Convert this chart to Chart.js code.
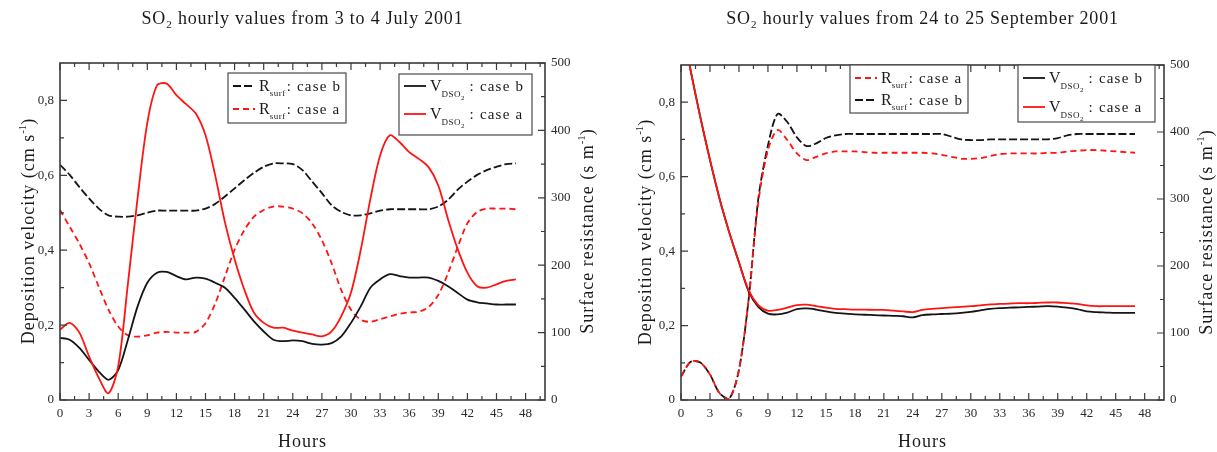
<!DOCTYPE html>
<html><head><meta charset="utf-8">
<script src="https://cdn.jsdelivr.net/npm/chart.js@4.4.1/dist/chart.umd.min.js"></script>
<style>
html,body{margin:0;padding:0;background:#fff;width:1217px;height:452px;overflow:hidden}
canvas{position:absolute;top:0}
#c1{left:0}
#c2{left:608px}
</style></head><body>
<canvas id="c1" width="608" height="452"></canvas>
<canvas id="c2" width="609" height="452"></canvas>
<script>
// ---------- data ----------
const hours = [0,1,2,3,4,5,6,7,8,9,10,11,12,13,14,15,16,17,18,19,20,21,22,23,24,25,26,27,28,29,30,31,32,33,34,35,36,37,38,39,40,41,42,43,44,45,46,47];

const xTicks = [0,3,6,9,12,15,18,21,24,27,30,33,36,39,42,45,48];
const yTicks = [0,0.2,0.4,0.6,0.8];
const yTickLabels = ["0","0,2","0,4","0,6","0,8"];
const rTicks = [0,100,200,300,400,500];
const rTickLabels = ["0","100","200","300","400","500"];

// July (left panel)
const julyVdA = [0.188,0.206,0.18,0.116,0.059,0.018,0.09,0.31,0.54,0.74,0.84,0.845,0.814,0.79,0.765,0.707,0.60,0.475,0.376,0.295,0.233,0.206,0.193,0.193,0.185,0.18,0.175,0.17,0.183,0.224,0.287,0.40,0.537,0.653,0.707,0.689,0.662,0.644,0.622,0.573,0.483,0.403,0.34,0.304,0.30,0.309,0.318,0.322];
const julyVdB = [0.166,0.161,0.139,0.107,0.076,0.054,0.08,0.161,0.25,0.313,0.34,0.342,0.331,0.322,0.327,0.324,0.313,0.30,0.273,0.242,0.21,0.183,0.161,0.157,0.159,0.157,0.150,0.148,0.152,0.17,0.206,0.25,0.30,0.322,0.336,0.331,0.327,0.327,0.327,0.318,0.304,0.286,0.268,0.261,0.258,0.255,0.255,0.255];
const julyRsA = [282,257,232,203,168,134,109,96,94,96,100,101,100,100,101,114,143,183,223,252,272,282,287,287,284,277,262,237,203,163,134,119,116,120,124,128,130,131,138,156,188,227,262,279,284,284,284,283];
const julyRsB = [349,334,316,299,284,274,272,272,274,278,281,281,281,281,281,284,291,302,314,326,337,346,351,351,350,341,324,307,289,279,274,274,277,281,283,283,283,283,283,287,297,312,324,334,341,346,350,351];

// September (right panel)
const septVdA = [1.02,0.885,0.76,0.645,0.54,0.45,0.37,0.295,0.255,0.24,0.242,0.248,0.255,0.256,0.252,0.248,0.245,0.244,0.243,0.243,0.242,0.242,0.24,0.238,0.236,0.242,0.245,0.247,0.249,0.25,0.252,0.254,0.257,0.258,0.259,0.26,0.26,0.261,0.262,0.262,0.26,0.258,0.254,0.252,0.252,0.252,0.252,0.252];
const septVdB = [1.02,0.885,0.76,0.645,0.54,0.45,0.37,0.292,0.25,0.232,0.23,0.235,0.244,0.246,0.243,0.238,0.234,0.232,0.23,0.229,0.228,0.227,0.226,0.225,0.222,0.228,0.23,0.231,0.232,0.234,0.237,0.241,0.245,0.247,0.248,0.249,0.25,0.251,0.252,0.251,0.248,0.244,0.238,0.236,0.235,0.234,0.234,0.234];
const septRsA = [35,57,56,38,10,2,45,150,295,373,403,388,368,358,363,368,371,371,371,370,369,369,369,369,369,369,368,366,363,360,360,361,364,367,368,368,368,368,369,369,371,372,373,373,372,371,370,369];
const septRsB = [35,57,56,38,10,2,45,150,300,380,427,415,392,379,383,391,395,397,397,397,397,397,397,397,397,397,397,397,393,389,388,388,389,389,389,389,389,389,389,391,395,397,397,397,397,397,397,397];

// ---------- helpers ----------
const FF = "'Liberation Serif','Times New Roman',serif";
const RED = 'rgb(255,20,20)';
const BLACK = 'rgb(20,20,20)';
const pts = arr => hours.map((h,i)=>({x:h,y:arr[i]}));

function setFont(ctx, p){
  ctx.font = (p.w||'normal')+' '+p.s+'px '+FF;
  if ('letterSpacing' in ctx) ctx.letterSpacing = (p.ls||0)+'px';
}
function drawRich(ctx, parts, x, y, align){
  let w = 0;
  parts.forEach(p=>{ setFont(ctx,p); p._w = ctx.measureText(p.t).width; w += p._w + (p.gap||0); });
  let cx = align==='center' ? x - w/2 : x;
  ctx.textBaseline = 'alphabetic';
  ctx.textAlign = 'left';
  parts.forEach(p=>{ setFont(ctx,p); ctx.fillText(p.t, cx, y + (p.dy||0)); cx += p._w + (p.gap||0); });
  if ('letterSpacing' in ctx) ctx.letterSpacing = '0px';
}

function legendLine(ctx, x1, x2, y, color, dash){
  ctx.save();
  ctx.strokeStyle = color; ctx.lineWidth = 1.8; ctx.setLineDash(dash||[]);
  ctx.beginPath(); ctx.moveTo(x1,y); ctx.lineTo(x2,y); ctx.stroke();
  ctx.restore();
}

const decor = {
  id:'decor',
  afterDatasetsDraw(chart, args, o){
    const ctx = chart.ctx, a = chart.chartArea;
    const sx = chart.scales.x, sy = chart.scales.y, sr = chart.scales.y2;
    ctx.save();
    // frame
    ctx.strokeStyle = '#3a3a3a'; ctx.lineWidth = 1.6; ctx.setLineDash([]);
    ctx.strokeRect(a.left, a.top, a.right-a.left, a.bottom-a.top);
    ctx.lineWidth = 1.2;
    ctx.beginPath();
    xTicks.forEach(v=>{
      const px = sx.getPixelForValue(v);
      ctx.moveTo(px,a.bottom); ctx.lineTo(px,a.bottom-7);
      ctx.moveTo(px,a.top); ctx.lineTo(px,a.top+7);
      const m = v + (xTicks[1]-xTicks[0])/2;
      if (m < sx.max){
        const pm = sx.getPixelForValue(m);
        ctx.moveTo(pm,a.bottom); ctx.lineTo(pm,a.bottom-4);
        ctx.moveTo(pm,a.top); ctx.lineTo(pm,a.top+4);
      }
    });
    yTicks.forEach(v=>{
      const py = sy.getPixelForValue(v);
      ctx.moveTo(a.left,py); ctx.lineTo(a.left+7,py);
      const m = v + (yTicks[1]-yTicks[0])/2;
      if (m < sy.max){ const pm = sy.getPixelForValue(m); ctx.moveTo(a.left,pm); ctx.lineTo(a.left+4,pm); }
    });
    rTicks.forEach(v=>{
      const py = sr.getPixelForValue(v);
      ctx.moveTo(a.right,py); ctx.lineTo(a.right-7,py);
      const m = v + (rTicks[1]-rTicks[0])/2;
      if (m < sr.max){ const pm = sr.getPixelForValue(m); ctx.moveTo(a.right,pm); ctx.lineTo(a.right-4,pm); }
    });
    ctx.stroke();

    ctx.fillStyle = '#1a1a1a';
    // title
    drawRich(ctx, [
      {t:'SO', s:18, ls:0.8},{t:'2', s:11, dy:4, gap:1},{t:' hourly values from '+o.period, s:18, ls:0.8}
    ], (a.left+a.right)/2, 24, 'center');
    // Hours
    drawRich(ctx, [{t:'Hours', s:18, ls:1}], (a.left+a.right)/2, 447, 'center');
    // left axis title
    const cy = (a.top+a.bottom)/2;
    ctx.save(); ctx.translate(o.leftTitleX, cy); ctx.rotate(-Math.PI/2);
    drawRich(ctx, [{t:'Deposition velocity (cm s', s:18, ls:1},{t:'-1', s:11, dy:-8},{t:')', s:18}], 0, 0, 'center');
    ctx.restore();
    // right axis title
    ctx.save(); ctx.translate(a.right + o.rightTitleOff, cy); ctx.rotate(-Math.PI/2);
    drawRich(ctx, [{t:'Surface resistance (s m', s:18, ls:1},{t:'-1', s:11, dy:-8},{t:')', s:18}], 0, 0, 'center');
    ctx.restore();

    // legends
    o.boxes.forEach(b=>{
      ctx.fillStyle = '#fff'; ctx.fillRect(b.x,b.y,b.w,b.h);
      ctx.strokeStyle = '#4a4a4a'; ctx.lineWidth = 1.2; ctx.strokeRect(b.x,b.y,b.w,b.h);
      b.rows.forEach(r=>{
        legendLine(ctx, b.x+5, b.x+27, r.y, r.color, r.dash);
        ctx.fillStyle = '#1a1a1a';
        const sym = r.sym==='R'
          ? [{t:'R', s:16},{t:'surf', s:9, dy:5, ls:0.5, gap:1}]
          : [{t:'V', s:16},{t:'DSO', s:9, dy:6, ls:0.5},{t:'2', s:7, dy:9, gap:5}];
        drawRich(ctx, sym.concat([{t:': case '+r.c, s:15, ls:1.2}]), b.x+31, r.y+5, 'left');
      });
    });
    ctx.restore();
  }
};

function makeChart(id, o){
  const ds = (label, arr, color, axis, dash) => ({
    label, data: pts(arr), yAxisID: axis, borderColor: color, borderWidth: 1.8,
    borderDash: dash||[], pointRadius: 0, tension: 0.3, fill: false
  });
  return new Chart(document.getElementById(id), {
    type:'line',
    data:{ datasets:[
      ds('Vd case a', o.vdA, RED, 'y'),
      ds('Vd case b', o.vdB, BLACK, 'y'),
      ds('Rsurf case a', o.rsA, RED, 'y2', [6,4]),
      ds('Rsurf case b', o.rsB, BLACK, 'y2', [8,3])
    ]},
    options:{
      responsive:false, animation:false, events:[],
      layout:{ padding:{ top:o.top, left:0, right:0, bottom:0 } },
      plugins:{ legend:{display:false}, tooltip:{enabled:false}, decor:o.decor },
      scales:{
        x:{ type:'linear', min:0, max:50,
          afterBuildTicks:s=>{ s.ticks = xTicks.map(v=>({value:v})); },
          ticks:{ font:{family:FF,size:13}, color:'#2a2a2a', padding:6, maxRotation:0, autoSkip:false },
          grid:{ display:false, drawTicks:false }, border:{display:false},
          afterFit:s=>{ s.height = 452 - o.bottom; } },
        y:{ type:'linear', position:'left', min:0, max:0.9,
          afterBuildTicks:s=>{ s.ticks = yTicks.map(v=>({value:v})); },
          ticks:{ font:{family:FF,size:13}, color:'#2a2a2a', padding:6,
            callback:(v)=>{ const i = yTicks.indexOf(v); return i>=0 ? yTickLabels[i] : ''; } },
          grid:{ display:false, drawTicks:false }, border:{display:false},
          afterFit:s=>{ s.width = o.left; } },
        y2:{ type:'linear', position:'right', min:0, max:500,
          afterBuildTicks:s=>{ s.ticks = rTicks.map(v=>({value:v})); },
          ticks:{ font:{family:FF,size:13}, color:'#2a2a2a', padding:6,
            callback:(v)=>{ const i = rTicks.indexOf(v); return i>=0 ? rTickLabels[i] : ''; } },
          grid:{ display:false, drawTicks:false }, border:{display:false},
          afterFit:s=>{ s.width = o.rightW; } }
      }
    },
    plugins:[decor]
  });
}

makeChart('c1', {
  vdA: julyVdA, vdB: julyVdB, rsA: julyRsA, rsB: julyRsB,
  top:63, bottom:400, left:60, rightW:608-545,
  decor:{ period:'3 to 4 July 2001', leftTitleX:34, rightTitleOff:48,
    boxes:[
      {x:228,y:73,w:118,h:50, rows:[
        {y:86, sym:'R', c:'b', color:BLACK, dash:[8,3]},
        {y:109, sym:'R', c:'a', color:RED, dash:[6,4]} ]},
      {x:399,y:74,w:133,h:61, rows:[
        {y:86, sym:'V', c:'b', color:BLACK},
        {y:114, sym:'V', c:'a', color:RED} ]}
    ]}
});

makeChart('c2', {
  vdA: septVdA, vdB: septVdB, rsA: septRsA, rsB: septRsB,
  top:65, bottom:400, left:73, rightW:609-556,
  decor:{ period:'24 to 25 September 2001', leftTitleX:43, rightTitleOff:48,
    boxes:[
      {x:242,y:65,w:118,h:48, rows:[
        {y:78, sym:'R', c:'a', color:RED, dash:[6,4]},
        {y:100, sym:'R', c:'b', color:BLACK, dash:[8,3]} ]},
      {x:410,y:65,w:137,h:57, rows:[
        {y:78, sym:'V', c:'b', color:BLACK},
        {y:107, sym:'V', c:'a', color:RED} ]}
    ]}
});
</script>
</body></html>
